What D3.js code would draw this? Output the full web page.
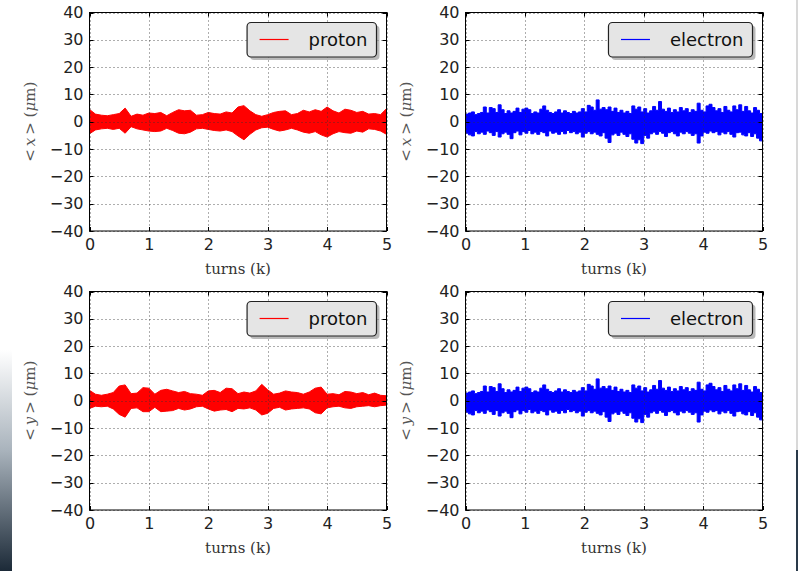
<!DOCTYPE html>
<html>
<head>
<meta charset="utf-8">
<script src="https://cdn.jsdelivr.net/npm/d3@7"></script>
<style>
  body { margin: 0; background: #fff; }
  svg { display: block; }
</style>
</head>
<body>
<svg id="chart" width="798" height="571"></svg>
<script>
//----------------------------------------------------------------------------------------------------------------------
// Data (envelopes, µm, evenly spaced over 0..5 k turns)
//----------------------------------------------------------------------------------------------------------------------
const turnTicks = [0, 1, 2, 3, 4, 5];
const posTicks = [-40, -30, -20, -10, 0, 10, 20, 30, 40];

const protonXUpper = [4.5,2.8,2.4,2.2,2.6,3.0,5.0,2.0,2.8,2.4, 3.2,3.0,3.4,2.2,3.4,4.4,4.0,4.2,2.4,2.6,
    3.4,3.0,2.8,3.6,3.2,5.4,5.9,4.0,2.6,2.0, 2.6,3.4,3.8,4.0,2.6,3.0,4.2,3.6,4.4,3.8,
    5.4,4.0,3.2,4.6,4.2,3.4,3.8,2.8,3.0,2.6, 4.8];
const protonXLower = [-4.4,-3.0,-2.6,-2.4,-2.8,-2.4,-4.2,-1.8,-2.6,-3.0, -3.4,-3.6,-3.4,-2.4,-3.2,-4.2,-4.4,-3.8,-2.6,-2.4,
    -2.8,-3.2,-3.4,-3.0,-3.6,-5.2,-6.6,-4.6,-3.0,-2.2, -2.0,-2.8,-3.4,-3.0,-2.4,-3.0,-3.8,-4.2,-3.6,-4.8,
    -5.6,-4.4,-3.6,-4.0,-4.2,-3.4,-3.8,-2.6,-2.8,-3.4, -4.6];

const protonYUpper = [3.8,2.4,2.0,2.4,3.0,5.4,5.8,2.6,2.8,4.8, 4.6,2.4,3.8,4.2,3.6,3.0,3.4,2.6,2.4,2.0,
    3.6,3.8,3.0,4.6,4.4,2.6,3.2,2.8,3.6,6.0, 4.0,2.4,2.8,3.6,3.2,3.0,2.4,3.2,4.6,5.0,
    2.4,2.6,2.2,3.4,3.2,2.6,3.0,2.2,2.8,2.0, 1.8];
const protonYLower = [-2.8,-2.0,-2.2,-2.0,-3.0,-5.0,-6.0,-2.8,-2.6,-4.0, -4.0,-2.4,-4.0,-3.8,-3.6,-2.8,-3.4,-3.0,-2.2,-2.0,
    -3.0,-3.8,-3.4,-3.2,-4.0,-2.8,-3.0,-2.6,-3.4,-5.2, -4.6,-2.8,-2.4,-3.4,-3.0,-2.8,-2.6,-3.0,-4.4,-4.8,
    -2.6,-2.2,-2.0,-2.6,-2.8,-2.2,-2.0,-1.8,-2.2,-1.8, -1.6];

const electronXUpper = [2.8,3.2,3.6,2.6,3.0,3.4,5.4,3.2,5.2,4.8, 3.4,6.2,4.4,3.0,4.0,3.2,3.8,5.0,3.4,4.6,
    5.0,4.4,3.0,3.6,3.2,4.6,5.8,4.2,3.4,3.0, 3.6,4.4,3.2,4.0,3.4,3.0,3.8,3.2,3.6,4.8,
    3.6,6.0,5.4,4.2,8.0,4.6,5.2,4.4,5.4,3.8, 5.0,3.4,4.2,3.2,3.8,3.0,5.8,4.6,5.4,3.6,
    4.8,3.2,4.0,5.6,4.2,7.4,4.6,3.8,5.0,3.4, 4.4,3.6,5.2,4.0,4.8,3.4,4.4,3.8,6.8,4.2,
    3.6,5.8,6.4,5.2,4.0,4.8,3.4,5.6,4.2,3.6, 5.8,4.4,6.2,3.8,5.6,4.0,3.2,5.2,4.2,3.0, 2.6];
const electronXLower = [-4.2,-4.8,-5.2,-3.6,-4.4,-3.8,-4.6,-3.4,-4.0,-5.0, -3.6,-5.6,-4.4,-3.8,-4.6,-6.2,-4.0,-3.4,-4.8,-3.6,
    -4.2,-3.2,-4.4,-3.8,-4.6,-3.6,-4.0,-5.2,-3.4,-4.2, -3.8,-4.6,-3.6,-4.4,-3.2,-4.0,-3.6,-4.4,-3.8,-5.6,
    -4.2,-3.6,-4.4,-3.8,-4.6,-5.2,-4.0,-6.0,-7.6,-4.8, -4.2,-5.0,-3.8,-4.6,-5.4,-4.4,-6.4,-7.8,-6.6,-8.0,
    -5.0,-6.0,-4.4,-3.8,-4.6,-3.6,-4.2,-5.4,-4.0,-3.6, -4.4,-5.2,-3.8,-4.4,-3.6,-4.2,-5.0,-4.4,-7.8,-5.2,
    -3.8,-4.2,-3.4,-4.0,-3.6,-4.8,-3.8,-4.4,-3.6,-4.6, -5.6,-4.0,-3.8,-4.8,-5.2,-4.0,-5.4,-4.4,-6.0,-7.0, -5.0];

// the electron <y> panel is the same trace as <x> in the picture
const electronYUpper = electronXUpper;
const electronYLower = electronXLower;

//----------------------------------------------------------------------------------------------------------------------
// Layout
//----------------------------------------------------------------------------------------------------------------------
const svg = d3.select("#chart");
const colLeft = [89.5, 465.5];
const rowTop = [12.5, 291.5];
const plotW = 297, plotH = 218.5;

const panels = [
    {col: 0, row: 0, coord: "x", name: "proton", color: "#ff0000", upper: protonXUpper, lower: protonXLower, step: false},
    {col: 1, row: 0, coord: "x", name: "electron", color: "#0000ff", upper: electronXUpper, lower: electronXLower, step: true},
    {col: 0, row: 1, coord: "y", name: "proton", color: "#ff0000", upper: protonYUpper, lower: protonYLower, step: false},
    {col: 1, row: 1, coord: "y", name: "electron", color: "#0000ff", upper: electronYUpper, lower: electronYLower, step: true}
];

// window edge decorations
const defs = svg.append("defs");
const grad = defs.append("linearGradient").attr("id", "edgeGrad")
    .attr("x1", 0).attr("y1", 0).attr("x2", 0).attr("y2", 1);
grad.append("stop").attr("offset", "0").attr("stop-color", "#ffffff");
grad.append("stop").attr("offset", "0.45").attr("stop-color", "#aab4bd");
grad.append("stop").attr("offset", "1").attr("stop-color", "#1c2a38");
svg.append("rect").attr("x", 0).attr("y", 350).attr("width", 12).attr("height", 221).attr("fill", "url(#edgeGrad)");
svg.append("rect").attr("x", 796).attr("y", 0).attr("width", 2).attr("height", 450).attr("fill", "#d8d8d8");
svg.append("rect").attr("x", 796).attr("y", 450).attr("width", 2).attr("height", 121).attr("fill", "#2a3a4a");

const clipId = (p) => "clip" + p.col + p.row;

panels.forEach(drawPanel);

function drawPanel(p) {
    const left = colLeft[p.col], top = rowTop[p.row];
    const x = d3.scaleLinear().domain([0, 5]).range([left, left + plotW]);
    const y = d3.scaleLinear().domain([-40, 40]).range([top + plotH, top]);

    defs.append("clipPath").attr("id", clipId(p))
        .append("rect").attr("x", left).attr("y", top).attr("width", plotW).attr("height", plotH);

    const n = p.upper.length;
    const pts = d3.zip(p.upper, p.lower).map((d, i) => ({t: i * 5 / (n - 1), hi: d[0], lo: d[1]}));
    const curve = p.step ? d3.curveStepAfter : d3.curveLinear;

    const g = svg.append("g").attr("clip-path", "url(#" + clipId(p) + ")");

    g.append("path").datum(pts)
        .attr("fill", p.color)
        .attr("d", d3.area().curve(curve).x(d => x(d.t)).y0(d => y(d.lo)).y1(d => y(d.hi)));
    g.append("path").datum(pts)
        .attr("fill", "none").attr("stroke", p.color).attr("stroke-width", 1)
        .attr("d", d3.line().curve(curve).x(d => x(d.t)).y(d => y(d.hi)));
    g.append("path").datum(pts)
        .attr("fill", "none").attr("stroke", p.color).attr("stroke-width", 1)
        .attr("d", d3.line().curve(curve).x(d => x(d.t)).y(d => y(d.lo)));

    // grid drawn over the data, as in the original
    const grid = svg.append("g").attr("stroke", "#333").attr("stroke-width", 0.8).attr("stroke-dasharray", "1,3");
    grid.selectAll(".gx").data(turnTicks).enter().append("line")
        .attr("x1", d => Math.round(x(d)) + 0.5).attr("x2", d => Math.round(x(d)) + 0.5)
        .attr("y1", top).attr("y2", top + plotH);
    grid.selectAll(".gy").data(posTicks).enter().append("line")
        .attr("y1", d => Math.round(y(d)) + 0.5).attr("y2", d => Math.round(y(d)) + 0.5)
        .attr("x1", left).attr("x2", left + plotW);

    // inward ticks on all four sides
    const ticks = svg.append("g").attr("stroke", "#000").attr("stroke-width", 1);
    turnTicks.forEach(d => {
        const xx = Math.round(x(d)) + 0.5;
        ticks.append("line").attr("x1", xx).attr("x2", xx).attr("y1", top + plotH).attr("y2", top + plotH - 4);
        ticks.append("line").attr("x1", xx).attr("x2", xx).attr("y1", top).attr("y2", top + 4);
    });
    posTicks.forEach(d => {
        const yy = Math.round(y(d)) + 0.5;
        ticks.append("line").attr("y1", yy).attr("y2", yy).attr("x1", left).attr("x2", left + 4);
        ticks.append("line").attr("y1", yy).attr("y2", yy).attr("x1", left + plotW).attr("x2", left + plotW - 4);
    });

    svg.append("rect").attr("x", left).attr("y", top).attr("width", plotW).attr("height", plotH)
        .attr("fill", "none").attr("stroke", "#000").attr("stroke-width", 1);

    // tick labels
    const xAxis = svg.append("g").attr("transform", "translate(0," + (top + plotH) + ")")
        .call(d3.axisBottom(x).tickValues(turnTicks).tickSize(0).tickPadding(8).tickFormat(d3.format("d")));
    const yAxis = svg.append("g").attr("transform", "translate(" + left + ",0)")
        .call(d3.axisLeft(y).tickValues(posTicks).tickSize(0).tickPadding(6).tickFormat(d3.format("d")));
    [xAxis, yAxis].forEach(a => {
        a.select(".domain").remove();
        a.selectAll("text").attr("font-family", "DejaVu Sans, sans-serif").attr("font-size", 16).attr("fill", "#222");
    });

    // axis titles
    svg.append("text")
        .attr("x", left + plotW / 2).attr("y", top + plotH + 43)
        .attr("text-anchor", "middle")
        .attr("font-family", "DejaVu Serif, serif").attr("font-size", 15).attr("fill", "#333")
        .text("turns (k)");

    const yl = svg.append("text")
        .attr("transform", "translate(" + (left - 55) + "," + (top + plotH / 2) + ") rotate(-90)")
        .attr("text-anchor", "middle")
        .attr("font-family", "DejaVu Serif, serif").attr("font-size", 15).attr("fill", "#555");
    yl.append("tspan").text("<\u2009");
    yl.append("tspan").attr("font-style", "italic").text(p.coord);
    yl.append("tspan").text("\u2009> (");
    yl.append("tspan").attr("font-style", "italic").text("\u03bc");
    yl.append("tspan").text("m)");

    // legend
    const lg = svg.append("g");
    const label = lg.append("text")
        .attr("font-family", "DejaVu Sans, sans-serif").attr("font-size", 18).attr("fill", "#111")
        .text(p.name);
    const textLen = label.node().getComputedTextLength();
    const boxRight = left + plotW - 10, boxTop = top + 10, boxH = 34.5;
    const textStart = boxRight - 9 - textLen;
    const lineEnd = textStart - 20, lineStart = lineEnd - 29;
    const boxLeft = lineStart - 12.5;
    lg.insert("rect", "text")
        .attr("x", boxLeft + 3).attr("y", boxTop + 3).attr("width", boxRight - boxLeft).attr("height", boxH)
        .attr("rx", 4).attr("fill", "#8c8c8c").attr("opacity", 0.6);
    lg.insert("rect", "text")
        .attr("x", boxLeft).attr("y", boxTop).attr("width", boxRight - boxLeft).attr("height", boxH)
        .attr("rx", 4).attr("fill", "#e5e5e5").attr("stroke", "#222").attr("stroke-width", 1.2);
    lg.append("line")
        .attr("x1", lineStart).attr("x2", lineEnd).attr("y1", boxTop + 17).attr("y2", boxTop + 17)
        .attr("stroke", p.color).attr("stroke-width", 1.2);
    label.attr("x", textStart).attr("y", boxTop + 17).attr("dy", "0.35em");
}
</script>
</body>
</html>
